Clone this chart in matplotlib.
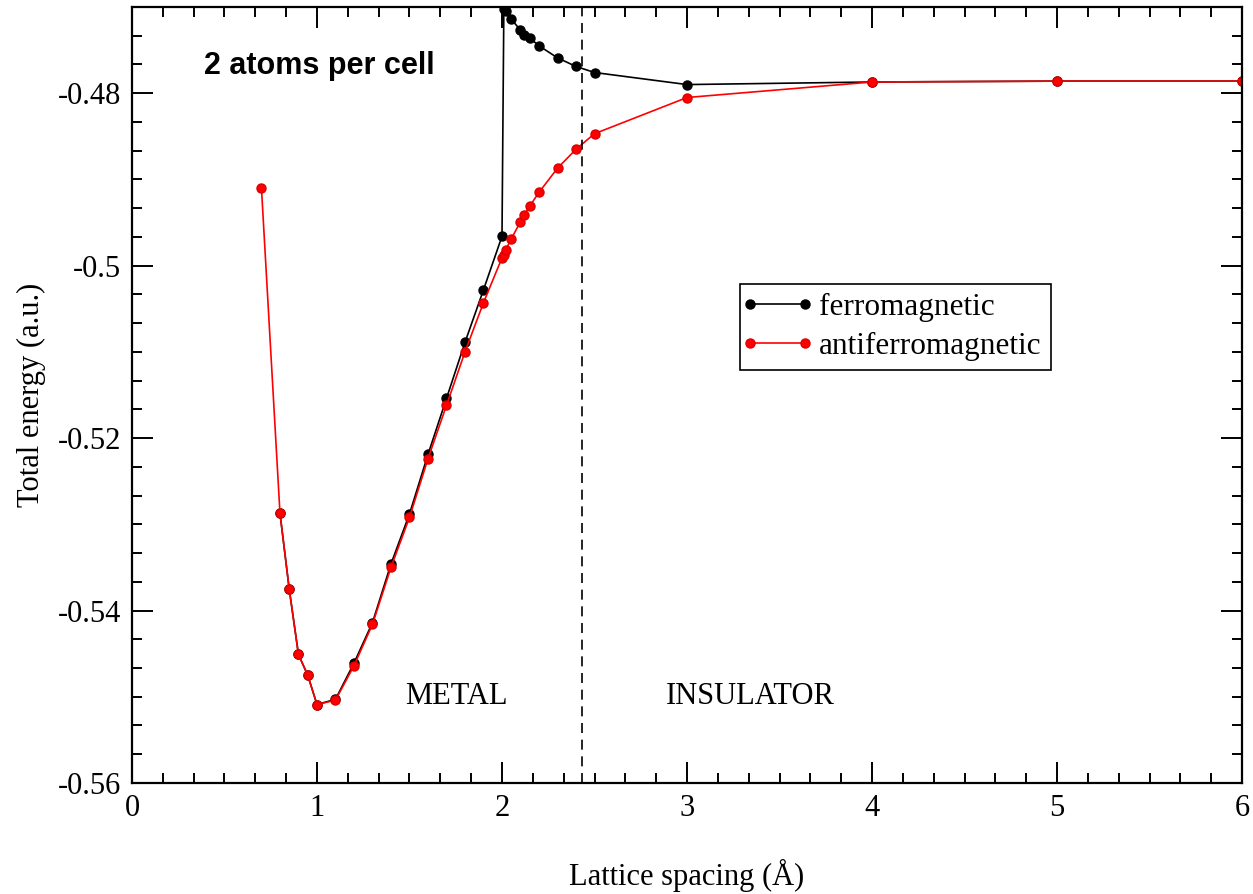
import numpy as np
import matplotlib
matplotlib.use("Agg")
import matplotlib.pyplot as plt
from matplotlib.ticker import MultipleLocator
from matplotlib.legend_handler import HandlerLine2D

# lattice spacing (Angstrom) and total energy (a.u.)
x_ferro = [0.8, 0.85, 0.9, 0.95, 1.0, 1.1, 1.2, 1.3, 1.4, 1.5, 1.6, 1.7, 1.8, 1.9,
           2.0, 2.01, 2.02, 2.05, 2.1, 2.12, 2.15, 2.2, 2.3, 2.4, 2.5, 3.0, 4.0, 5.0, 6.0]
e_ferro = [-0.5287, -0.5375, -0.5451, -0.5475, -0.5509, -0.5503, -0.5461, -0.5414,
           -0.5346, -0.5288, -0.5219, -0.5154, -0.5089, -0.5028,
           -0.4966, -0.4702, -0.4705, -0.4714, -0.4727, -0.4732, -0.4736, -0.4745,
           -0.4759, -0.4769, -0.4776, -0.4790, -0.4787, -0.4786, -0.4786]

x_afm = [0.7, 0.8, 0.85, 0.9, 0.95, 1.0, 1.1, 1.2, 1.3, 1.4, 1.5, 1.6, 1.7, 1.8, 1.9,
         2.0, 2.01, 2.02, 2.05, 2.1, 2.12, 2.15, 2.2, 2.3, 2.4, 2.5, 3.0, 4.0, 5.0, 6.0]
e_afm = [-0.4910, -0.5287, -0.5375, -0.5451, -0.5475, -0.5509, -0.5504, -0.5464,
         -0.5416, -0.5350, -0.5292, -0.5224, -0.5162, -0.5100, -0.5043,
         -0.4991, -0.4988, -0.4982, -0.4969, -0.4949, -0.4941, -0.4931, -0.4915,
         -0.4887, -0.4865, -0.4847, -0.4805, -0.4787, -0.4786, -0.4786]

transition = 2.435

plt.rcParams["font.family"] = ["Liberation Serif", "DejaVu Serif"]

fig = plt.figure(figsize=(12.53, 8.94), dpi=100)
ax = fig.add_axes([0.1053, 0.1242, 0.8860, 0.8680])

l1, = ax.plot(x_ferro, e_ferro, color="k", lw=1.2, marker="o", ms=6.5,
              label="ferromagnetic")
l2, = ax.plot(x_afm, e_afm, color="red", lw=1.2, marker="o", ms=6.5,
              mec="#dd0000", label="antiferromagnetic")
ax.axvline(transition, color="k", lw=1.2, ls=(0, (6, 4)))

ax.set_xlim(0, 6)
ax.set_ylim(-0.56, -0.47)
ax.set_xticks([0, 1, 2, 3, 4, 5, 6])
ax.xaxis.set_minor_locator(MultipleLocator(1 / 6))
ax.set_yticks([-0.56, -0.54, -0.52, -0.5, -0.48])
ax.set_yticklabels(["-0.56", "-0.54", "-0.52", "-0.5", "-0.48"])
ax.yaxis.set_minor_locator(MultipleLocator(0.02 / 6))
ax.set_ylim(-0.56, -0.47)

ax.tick_params(which="both", direction="in", top=True, right=True,
               labelsize=22, width=1.4)
ax.tick_params(which="major", length=15, pad=8)
ax.tick_params(which="minor", length=7.5)
for s in ax.spines.values():
    s.set_linewidth(1.6)

ax.set_xlabel("Lattice spacing (Å)", fontsize=22, labelpad=26)
ax.set_ylabel("Total energy (a.u.)", fontsize=22, labelpad=8)

ax.text(0.39, -0.4769, "2 atoms per cell", fontsize=22, fontweight="bold",
        family=["Liberation Sans", "DejaVu Sans"], va="center", ha="left")
ax.text(1.753, -0.5500, "METAL", fontsize=22, va="center", ha="center")
ax.text(3.344, -0.5500, "INSULATOR", fontsize=22, va="center", ha="center")

leg = ax.legend(handles=[l1, l2], loc="upper left", bbox_to_anchor=(0.548, 0.643),
                borderaxespad=0, fontsize=22.5, numpoints=2, handlelength=1.76,
                fancybox=False, framealpha=1, edgecolor="k", borderpad=0.3,
                labelspacing=0.3, handletextpad=0.45,
                handler_map={l1: HandlerLine2D(marker_pad=0),
                             l2: HandlerLine2D(marker_pad=0)})
leg.get_frame().set_linewidth(1.2)

fig.savefig("out.png", dpi=100)
